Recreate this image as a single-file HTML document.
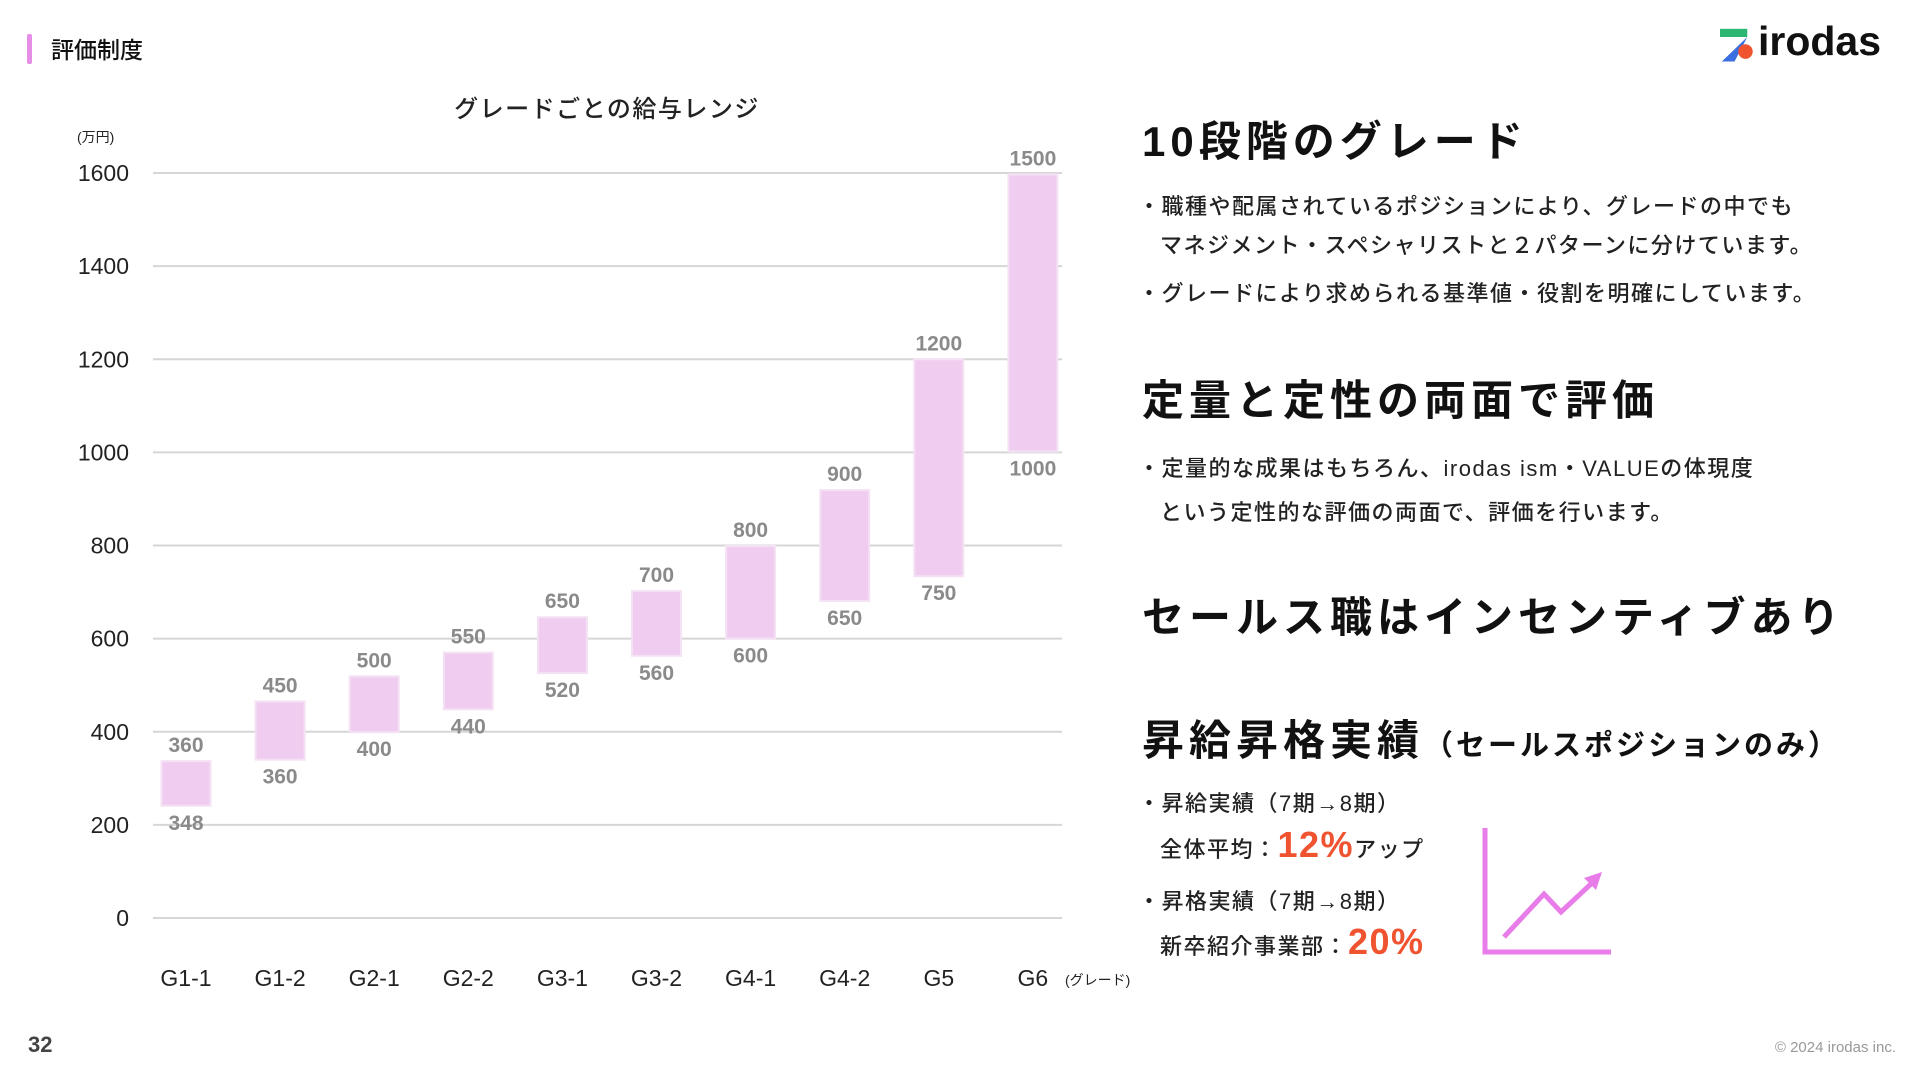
<!DOCTYPE html>
<html><head><meta charset="utf-8">
<style>
html,body{margin:0;padding:0;background:#fff;}
body{width:1920px;height:1080px;position:relative;overflow:hidden;font-family:"Liberation Sans","Noto Sans CJK JP",sans-serif;color:#111;}
.abs{position:absolute;white-space:nowrap;}
.h{font-weight:700;font-size:42px;letter-spacing:5px;color:#111;}
.b{font-size:22px;letter-spacing:1.5px;color:#222;font-weight:500;}
.or{color:#f0532f;font-weight:700;font-size:36px;}
</style></head>
<body>
<div class="abs" style="left:27px;top:34px;width:5px;height:30px;background:#e68de6;border-radius:2px;"></div>
<div class="abs" style="left:51px;top:31px;font-size:23px;font-weight:500;">評価制度</div>
<div class="abs" style="left:28px;top:1032px;font-size:22px;font-weight:700;color:#444;">32</div>
<div class="abs" style="right:24px;top:1039px;font-size:15px;color:#999;">© 2024 irodas inc.</div>

<div class="abs" style="left:1720px;top:24px;height:44px;">
 <svg width="40" height="40" viewBox="0 0 44 44" style="position:absolute;left:0;top:3px">
  <rect x="0" y="2" width="30" height="9" fill="#2bb673"/>
  <path d="M30 11 L16 38 L2 38 Z" fill="#3b6fe0"/>
  <circle cx="28" cy="27" r="8" fill="#f0532f"/>
 </svg>
 <span style="position:absolute;left:38px;top:-6px;font-size:41px;font-weight:700;letter-spacing:0px;color:#111;">irodas</span>
</div>

<svg class="abs" style="left:0;top:0" width="1200" height="1080" id="chart"></svg>

<div class="abs h" style="left:1142px;top:108px;">10段階のグレード</div>
<div class="abs b" style="left:1138px;top:189px;">・職種や配属されているポジションにより、グレードの中でも</div>
<div class="abs b" style="left:1160px;top:228px;">マネジメント・スペシャリストと２パターンに分けています。</div>
<div class="abs b" style="left:1138px;top:276px;">・グレードにより求められる基準値・役割を明確にしています。</div>

<div class="abs h" style="left:1142px;top:367px;">定量と定性の両面で評価</div>
<div class="abs b" style="left:1138px;top:451px;">・定量的な成果はもちろん、irodas ism・VALUEの体現度</div>
<div class="abs b" style="left:1160px;top:495px;">という定性的な評価の両面で、評価を行います。</div>

<div class="abs h" style="left:1142px;top:584px;">セールス職はインセンティブあり</div>

<div class="abs h" style="left:1142px;top:707px;">昇給昇格実績<span style="font-size:29px;letter-spacing:3px;">（セールスポジションのみ）</span></div>
<div class="abs b" style="left:1138px;top:786px;">・昇給実績（7期→8期）</div>
<div class="abs b" style="left:1160px;top:824px;">全体平均：<span class="or">12%</span>アップ</div>
<div class="abs b" style="left:1138px;top:884px;">・昇格実績（7期→8期）</div>
<div class="abs b" style="left:1160px;top:921px;">新卒紹介事業部：<span class="or">20%</span></div>

<svg class="abs" style="left:1480px;top:820px" width="150" height="150">
 <polyline points="5,8 5,132 131,132" fill="none" stroke="#e87ce8" stroke-width="5"/>
 <polyline points="24,117 64,74 81,92 112,63" fill="none" stroke="#e87ce8" stroke-width="5"/>
 <polygon points="122,52 104,58 116,70" fill="#e87ce8"/>
</svg>

<script>
const categories=["G1-1","G1-2","G2-1","G2-2","G3-1","G3-2","G4-1","G4-2","G5","G6"];
const barLow=[241,340,399,448,526,563,600,681,734,1002];
const barHigh=[337,465,519,570,646,702,799,919,1200,1597];
const labelLow=["348","360","400","440","520","560","600","650","750","1000"];
const labelHigh=["360","450","500","550","650","700","800","900","1200","1500"];
const yTicks=[0,200,400,600,800,1000,1200,1400,1600];

const svg=document.getElementById('chart');
const NS='http://www.w3.org/2000/svg';
const y0=918,y1=173,vmax=1600;
const yS=v=>y0-(v/vmax)*(y0-y1);
const xS=i=>186+i*94.1;
function mk(tag,attrs,txt){const e=document.createElementNS(NS,tag);for(const k in attrs)e.setAttribute(k,attrs[k]);if(txt!==undefined)e.textContent=txt;svg.appendChild(e);return e;}

let t=mk('text',{x:607,y:117,'text-anchor':'middle','font-size':24,fill:'#222','font-weight':500,'letter-spacing':1.5},'グレードごとの給与レンジ');


t=mk('text',{x:77,y:142,'font-size':14,fill:'#222'},'(万円)');


t=mk('text',{x:1065,y:985,'font-size':14,fill:'#222'},'(グレード)');



yTicks.forEach(v=>{
 const l=mk('line',{x1:153,x2:1062,y1:yS(v),y2:yS(v),stroke:'#d6d6d6','stroke-width':2});
 
 
 const tx=mk('text',{x:129,y:yS(v)+8,'text-anchor':'end','font-size':23,fill:'#222'},String(v));
 
 
});

categories.forEach((c,i)=>{
 const x=xS(i),w=49;
 const r=mk('rect',{x:x-w/2,y:yS(barHigh[i]),width:w,height:yS(barLow[i])-yS(barHigh[i]),fill:'#f0cdf0',stroke:'#f4e2f4','stroke-width':2});
 
 
 const th=mk('text',{x:x,y:yS(barHigh[i])-9,'text-anchor':'middle','font-size':21,fill:'#8a8a8a','font-weight':700},labelHigh[i]);
 
 
 const tl=mk('text',{x:x,y:yS(barLow[i])+24,'text-anchor':'middle','font-size':21,fill:'#8a8a8a','font-weight':700},labelLow[i]);
 
 
 const xl=mk('text',{x:x,y:986,'text-anchor':'middle','font-size':23,fill:'#222'},c);
 
 
});
</script>
</body></html>
